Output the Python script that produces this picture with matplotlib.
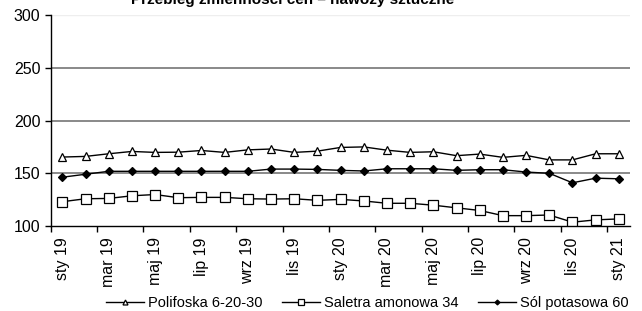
import numpy as np
import matplotlib.pyplot as plt

plt.rcParams['font.family'] = ['Liberation Sans', 'DejaVu Sans']

months = ["sty", "lut", "mar", "kwi", "maj", "cze", "lip", "sie", "wrz", "paź", "lis", "gru"]
categories = [f"{months[i % 12]} {19 + i // 12}" for i in range(25)]

polifoska = [165.4, 166.0, 168.5, 170.7, 169.8, 170.0, 171.6, 169.8, 172.2, 173.0, 169.8, 171.0,
             174.5, 175.0, 171.9, 169.8, 170.4, 166.7, 168.2, 165.1, 167.0, 162.7, 162.7, 168.5, 168.5]
saletra = [123.1, 125.9, 126.2, 128.7, 129.9, 126.9, 127.2, 127.2, 125.9, 125.6, 125.9, 124.4,
           125.3, 123.8, 121.6, 121.6, 119.8, 117.3, 114.8, 109.9, 109.9, 110.5, 103.7, 105.9, 106.8]
sol = [146.3, 149.1, 151.9, 151.9, 151.9, 151.9, 151.9, 151.9, 151.9, 154.0, 154.0, 153.7,
       152.8, 152.2, 154.3, 154.3, 154.3, 152.8, 153.4, 153.4, 151.2, 150.0, 141.0, 145.4, 144.8]

series = [
    ("Polifoska 6-20-30", polifoska, "^", "white", 5.5),
    ("Saletra amonowa 34", saletra, "s", "white", 6.5),
    ("Sól potasowa 60", sol, "D", "black", 3.8),
]

fig = plt.figure(figsize=(6.42, 3.11), dpi=100)
ax = fig.add_axes([0.079, 0.273, 0.903, 0.679])

x = np.arange(len(categories))

for y in [150, 200, 250]:
    ax.axhline(y, color="#808080", lw=1.3, zorder=0)
ax.axhline(300, color="#eeeeee", lw=1, zorder=0)

for name, vals, mk, fc, ms in series:
    ax.plot(x, vals, color="black", lw=1, marker=mk, markerfacecolor=fc,
            markeredgecolor="black", markersize=ms, markeredgewidth=0.9, label=name)

ax.set_xlim(-0.5, len(categories) - 0.5)
ax.set_ylim(100, 300)
ax.set_yticks([100, 150, 200, 250, 300])
ax.tick_params(axis="y", labelsize=11.5, length=4, direction="out", width=1)

ax.set_xticks(x[::2])
ax.set_xticklabels(categories[::2], rotation=90, fontsize=11.5)
ax.set_xticks(np.arange(-0.5, len(categories), 2), minor=True)
ax.tick_params(axis="x", which="major", length=0, pad=8)
ax.tick_params(axis="x", which="minor", length=4, width=1, direction="out")

for s in ["top", "right"]:
    ax.spines[s].set_visible(False)
ax.spines["left"].set_linewidth(1)
ax.spines["bottom"].set_linewidth(1)

fig.legend(loc="center", bbox_to_anchor=(0.572, 0.026), ncol=3, frameon=False,
           fontsize=10.5, handlelength=2.6, handletextpad=0.27, columnspacing=1.35,
           borderpad=0, borderaxespad=0, markerscale=0.65)

fig.text(0.456, 1 - 4 / 311, "Przebieg zmienności cen – nawozy sztuczne",
         ha="center", va="baseline", fontsize=11, fontweight="bold")

fig.savefig("out.png", dpi=100)
